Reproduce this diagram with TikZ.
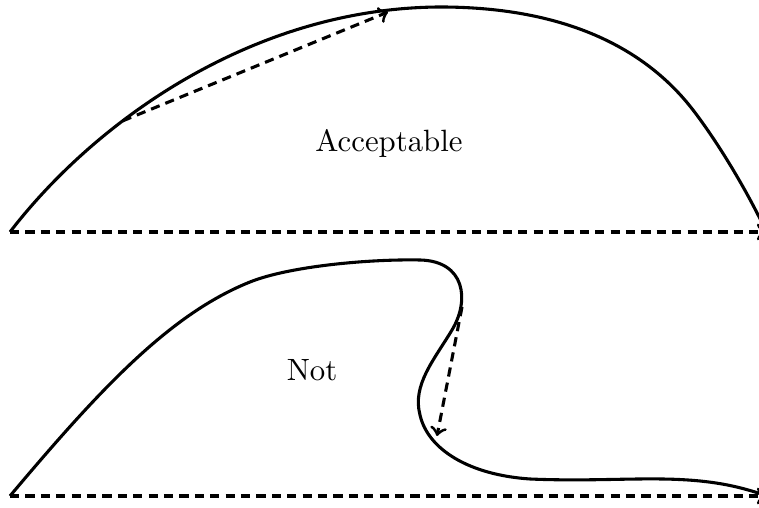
\documentclass[tikz,border=0pt]{standalone}
\begin{document}
\begin{tikzpicture}[x=0.3247pt,y=-0.3247pt,
  curve/.style={line width=1pt},
  dasharrow/.style={line width=1pt,dash pattern=on 3pt off 2pt,->}]
\useasboundingbox (0,0) rectangle (759,508);
% top
\coordinate (a0) at (10,232);
\coordinate (a1) at (766,232);
\coordinate (p1) at (388,12);
\draw[curve] (a0) .. controls (93,124) and (250,8) .. coordinate[pos=0.35] (p0) (440,7)
  .. controls (570,7) and (648,51.5) .. (693,110)
  .. controls (718,142.5) and (750,195) .. (770,240);
\draw[dasharrow] (p0) -- (p1);
\draw[dasharrow] (a0) -- (a1);
\node (acc) at (389,143) {Acceptable};
% bottom
\coordinate (b0) at (10,496);
\coordinate (b1) at (766,496);
\coordinate (q0) at (462,307);
\coordinate (q1) at (437,436);
\draw[curve] (b0) .. controls (100,389) and (170,314) .. (250,282)
  .. controls (290,266) and (370,259) .. (420,260)
  .. controls (465,261) and (470,300) .. (452,330)
  .. controls (434,360) and (412,385) .. (420,415)
  .. controls (428,450) and (470,475) .. (530,479)
  .. controls (600,482) and (650,476) .. (700,481)
  .. controls (730,484) and (750,490) .. (770,497);
\draw[dasharrow] (b0) -- (b1);
\draw[dasharrow] (q0) -- (q1);
\node (not) at (312,370) {Not};
\end{tikzpicture}
\end{document}
